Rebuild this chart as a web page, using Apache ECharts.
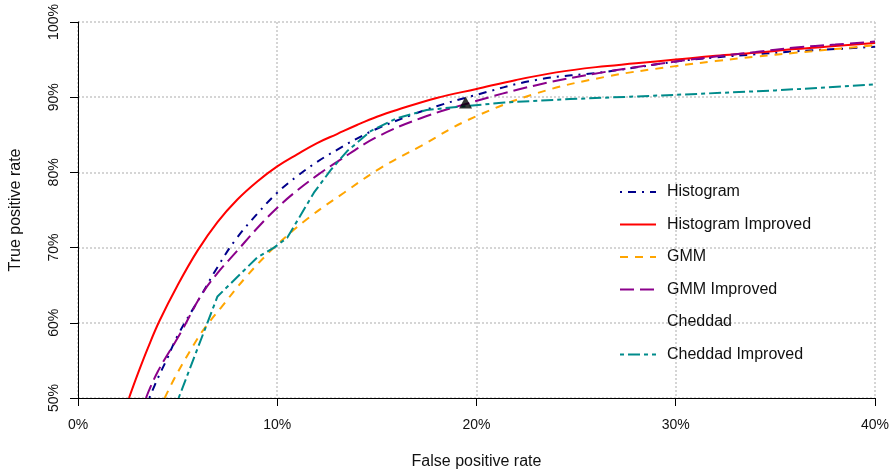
<!DOCTYPE html>
<html>
<head>
<meta charset="utf-8">
<script src="https://cdn.jsdelivr.net/npm/echarts@6/dist/echarts.min.js"></script>
<style>html,body{margin:0;padding:0;background:#fff}#c{width:892px;height:475px}</style>
</head>
<body>
<div id="c"></div>
<script>
// ---- data (percent units) ----
const seriesNames = ['Histogram', 'Histogram Improved', 'GMM', 'GMM Improved', 'Cheddad', 'Cheddad Improved'];
const xTicks = [0, 10, 20, 30, 40];
const yTicks = [50, 60, 70, 80, 90, 100];

const histFpr = [3.58, 4.0, 4.47, 5.0, 6.17, 7.0, 7.92, 9.0, 10.0, 11.0, 12.0, 13.0, 14.0, 15.0, 16.7, 18.0, 19.7, 23.0, 26.55, 29.9, 32, 34, 36, 38, 40];
const histTpr = [50, 52.6, 55.2, 58.3, 63.6, 67.4, 71.1, 74.5, 77.3, 79.5, 81.4, 83.0, 84.5, 85.8, 87.6, 88.8, 90.1, 92.3, 93.4, 94.7, 95.3, 95.7, 96.1, 96.4, 96.7];

const histImpFpr = [2.56, 3.0, 3.5, 4.08, 5.0, 6.0, 7.0, 8.0, 9.0, 10.0, 11.0, 12.0, 13.0, 14.0, 15.0, 16.0, 18.0, 20.0, 22.0, 24.0, 26.0, 28.0, 30.0, 32.0, 34.0, 36.0, 38.0, 40.0];
const histImpTpr = [50, 53.2, 56.6, 60.2, 65.0, 69.6, 73.4, 76.4, 78.8, 80.8, 82.4, 83.9, 85.1, 86.3, 87.4, 88.3, 89.9, 91.1, 92.3, 93.3, 94.0, 94.5, 95.0, 95.5, 95.9, 96.4, 96.8, 97.2];

const gmmFpr = [4.35, 5.0, 6.0, 6.33, 7.17, 8.5, 9.84, 11.5, 13.35, 15.2, 17.2, 19.6, 23.0, 26.55, 29.9, 32, 34, 36, 38, 40];
const gmmTpr = [50, 53.4, 57.9, 59.2, 62.0, 66.3, 70.0, 73.8, 77.3, 80.6, 83.5, 87.0, 90.5, 92.75, 94.1, 94.8, 95.4, 95.9, 96.4, 96.9];

const gmmImpFpr = [3.41, 4.0, 5.16, 6.17, 7.0, 8.0, 9.0, 10.0, 11.0, 12.0, 13.0, 15.0, 17.2, 19.6, 23.0, 26.55, 29.9, 32, 34, 36, 38, 40];
const gmmImpTpr = [50, 53.5, 58.7, 63.6, 66.6, 69.6, 72.6, 75.3, 77.6, 79.6, 81.4, 84.7, 87.2, 89.2, 91.6, 93.4, 94.7, 95.4, 96.0, 96.6, 97.0, 97.4];

const chedFpr = [19.45];
const chedTpr = [89.3];

const chedImpFpr = [5.05, 7.0, 9.0, 9.84, 10.5, 11.84, 12.68, 13.5, 14.69, 16.0, 17.5, 19.0, 21.4, 24.7, 29.9, 35, 40];
const chedImpTpr = [50, 63.5, 68.7, 70.0, 71.3, 77.3, 80.3, 82.8, 85.5, 87.2, 88.3, 88.7, 89.3, 89.75, 90.3, 90.9, 91.7];

function pairs(xs, ys) { return xs.map((x, i) => [x, ys[i]]); }

const FONT = '"Liberation Sans", Arial, Helvetica, sans-serif';
const chart = echarts.init(document.getElementById('c'), null, { renderer: 'canvas' });

function lineSeries(name, xs, ys, color, type, smooth) {
  return {
    name: name, type: 'line', data: pairs(xs, ys),
    showSymbol: false, symbol: 'none', smooth: smooth,
    lineStyle: { color: color, width: 2, type: type },
    itemStyle: { color: color },
    clip: true, z: 3, animation: false
  };
}

const option = {
  animation: false,
  backgroundColor: '#ffffff',
  grid: { left: 77, right: 17, top: 22, bottom: 76, containLabel: false },
  xAxis: {
    type: 'value', min: xTicks[0], max: xTicks[xTicks.length - 1], interval: 10,
    name: 'False positive rate', nameLocation: 'middle', nameGap: 56,
    nameTextStyle: { fontFamily: FONT, fontSize: 16, color: '#111' },
    axisLine: { show: true, onZero: false, lineStyle: { color: '#000', width: 1 } },
    axisTick: { show: true, length: 8, lineStyle: { color: '#000', width: 1 } },
    axisLabel: { formatter: '{value}%', fontFamily: FONT, fontSize: 14, color: '#111', margin: 20 },
    splitLine: { show: true, lineStyle: { color: '#c8c8c8', width: 1.5, type: [2, 2] } }
  },
  yAxis: {
    type: 'value', min: yTicks[0], max: yTicks[yTicks.length - 1], interval: 10,
    name: 'True positive rate', nameLocation: 'middle', nameGap: 54,
    nameTextStyle: { fontFamily: FONT, fontSize: 16, color: '#111' },
    axisLine: { show: true, onZero: false, lineStyle: { color: '#000', width: 1 } },
    axisTick: { show: true, length: 8, lineStyle: { color: '#000', width: 1 } },
    axisLabel: { formatter: '{value}%', fontFamily: FONT, fontSize: 14, color: '#111', margin: 17, rotate: 90 },
    splitLine: { show: true, lineStyle: { color: '#c8c8c8', width: 1.5, type: [2, 2] } }
  },
  legend: {
    orient: 'vertical', left: 614, top: 179,
    itemWidth: 36, itemHeight: 16, itemGap: 16.5,
    itemStyle: { color: 'rgba(0,0,0,0)', borderWidth: 0, opacity: 0 },
    textStyle: { fontFamily: FONT, fontSize: 16, color: '#111', padding: [0, 0, 0, 6] },
    data: [
      { name: seriesNames[0] }, { name: seriesNames[1] }, { name: seriesNames[2] },
      { name: seriesNames[3] }, { name: seriesNames[4], icon: 'none' }, { name: seriesNames[5] }
    ]
  },
  series: [
    lineSeries(seriesNames[0], histFpr, histTpr, '#00008B', [2, 6, 8, 6], 0.4),
    lineSeries(seriesNames[1], histImpFpr, histImpTpr, '#FF0000', 'solid', 0.4),
    lineSeries(seriesNames[2], gmmFpr, gmmTpr, '#FFA500', [8, 7], 0.4),
    lineSeries(seriesNames[3], gmmImpFpr, gmmImpTpr, '#8B008B', [14, 6], 0.4),
    {
      name: seriesNames[4], type: 'scatter', data: pairs(chedFpr, chedTpr),
      symbol: 'triangle', symbolSize: [13, 12], itemStyle: { color: '#000' }, z: 5
    },
    lineSeries(seriesNames[5], chedImpFpr, chedImpTpr, '#008B8B', [4, 4, 12, 4], false)
  ]
};
chart.setOption(option);
</script>
</body>
</html>
